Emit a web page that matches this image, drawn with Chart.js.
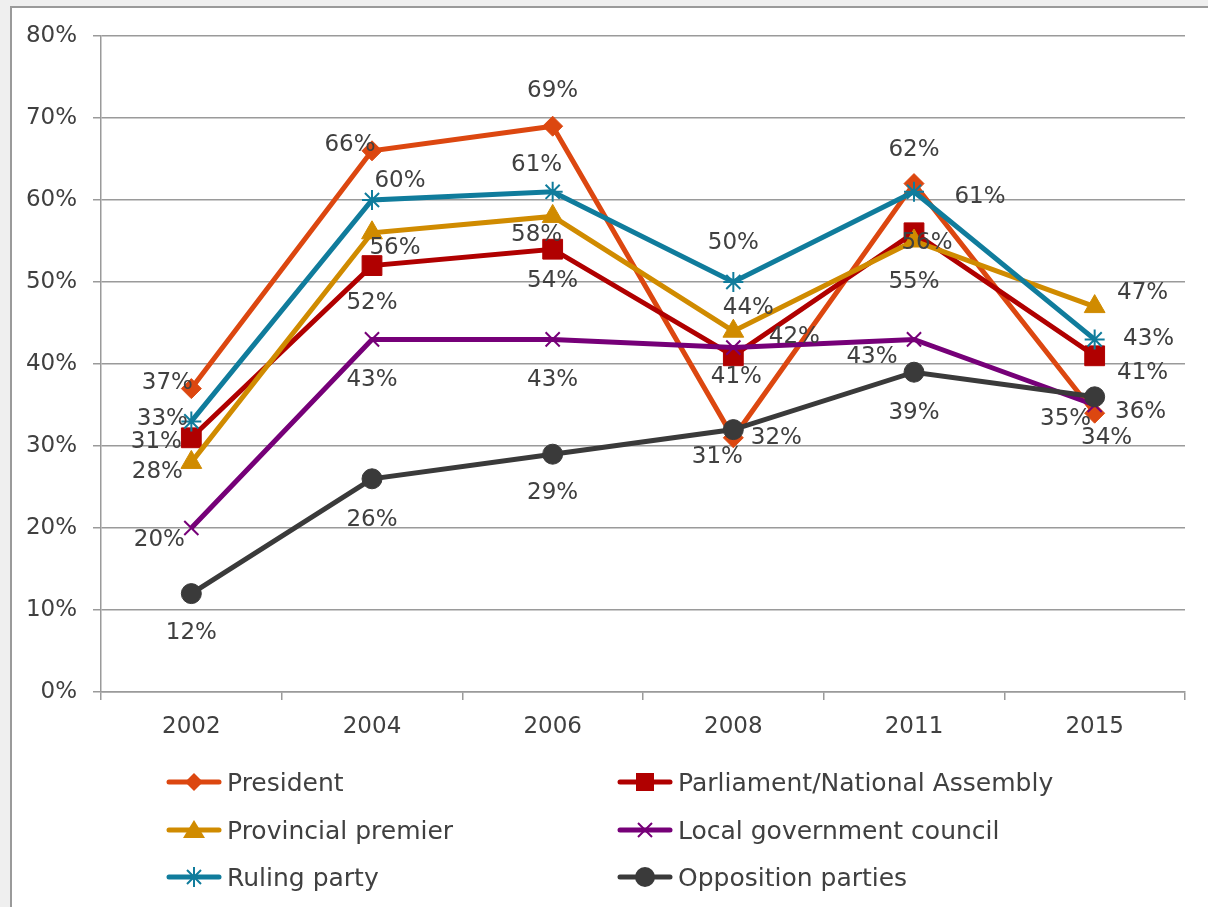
<!DOCTYPE html>
<html><head><meta charset="utf-8">
<script src="https://cdn.jsdelivr.net/npm/chart.js@4/dist/chart.umd.min.js"></script>
<style>
html,body{margin:0;padding:0;overflow:hidden;}
body{width:1208px;height:907px;background:#efefef;position:relative;font-family:"DejaVu Sans",sans-serif;}
#box{position:absolute;left:10px;top:6px;width:1198px;height:901px;background:#fff;border-left:2px solid #9a9a9a;border-top:2px solid #9a9a9a;box-sizing:border-box;}
#wrap{position:absolute;left:0;top:0;width:1208px;height:907px;}
.lg{position:absolute;display:flex;align-items:center;font-size:25px;color:#404040;height:32px;white-space:nowrap;}
.lg svg{margin-right:5px;}
</style></head>
<body>
<div id="box"></div>
<div id="wrap"><canvas id="c" width="1208" height="907"></canvas></div>
<div id="legend"></div>
<script>
const categories = ['2002','2004','2006','2008','2011','2015'];
const seriesNames = ['President','Parliament/National Assembly','Provincial premier','Local government council','Ruling party','Opposition parties'];
const president   = [37, 66, 69, 31, 62, 34];
const parliament  = [31, 52, 54, 41, 56, 41];
const provincial  = [28, 56, 58, 44, 55, 47];
const localGov    = [20, 43, 43, 42, 43, 35];
const rulingParty = [33, 60, 61, 50, 61, 43];
const opposition  = [12, 26, 29, 32, 39, 36];
const yTicks = [0,10,20,30,40,50,60,70,80];

const colors = ['#DC4710','#B00000','#D08B00','#760078','#107C9C','#3A3A3A'];
const styles = ['rectRot','rect','triangle','crossRot','star','circle'];
const radii  = [10, 14, 12, 10, 10, 10];
// label offsets (dx, dy) in px relative to each point
const labelOffsets = [
  [[-24,-6],[-22,-6],[0,-35],[-16,19],[0,-34],[12,25]],
  [[-35,4],[0,37],[0,32],[3,21],[13,10],[48,17]],
  [[-34,10],[23,15],[-16,19],[15,-23],[0,41],[48,-14]],
  [[-32,12],[0,41],[0,41],[61,-11],[-42,18],[-29,14]],
  [[-29,-2],[28,-19],[-16,-27],[0,-39],[66,5],[54,0]],
  [[0,39],[0,41],[0,39],[43,8],[0,41],[46,15]]
];
const allSeries = [president, parliament, provincial, localGov, rulingParty, opposition];

const datasets = allSeries.map((d,i)=>({
  label: seriesNames[i],
  data: d,
  borderColor: colors[i],
  backgroundColor: colors[i],
  borderWidth: 5,
  pointStyle: styles[i],
  pointRadius: radii[i],
  pointHoverRadius: radii[i],
  pointBorderWidth: (styles[i]==='crossRot'||styles[i]==='star') ? 2 : 1,
  pointBorderColor: colors[i],
  pointBackgroundColor: colors[i],
  tension: 0,
  order: 5 - i
}));

const labelPlugin = {
  id:'pctLabels',
  afterDatasetsDraw(chart){
    const ctx = chart.ctx;
    ctx.save();
    ctx.font = '23px "DejaVu Sans"';
    ctx.fillStyle = '#404040';
    ctx.textAlign = 'center';
    ctx.textBaseline = 'middle';
    chart.data.datasets.forEach((ds,i)=>{
      const meta = chart.getDatasetMeta(i);
      meta.data.forEach((pt,j)=>{
        const o = labelOffsets[i][j];
        ctx.fillText(ds.data[j]+'%', pt.x+o[0], pt.y+o[1]);
      });
    });
    ctx.restore();
  }
};

new Chart(document.getElementById('c'), {
  type:'line',
  data:{labels:categories, datasets},
  options:{
    responsive:false,
    animation:false,
    layout:{padding:{left:0,right:23,top:36,bottom:0}},
    plugins:{legend:{display:false},tooltip:{enabled:false}},
    scales:{
      x:{
        offset:true,
        grid:{display:true,drawOnChartArea:false,drawTicks:true,tickLength:8,color:'#9a9a9a',lineWidth:1.5,offset:true},
        border:{display:true,color:'#9a9a9a',width:1.5},
        ticks:{color:'#404040',font:{family:'DejaVu Sans',size:23},padding:13,maxRotation:0},
        afterFit(s){s.height=215;}
      },
      y:{
        min:0,max:80,
        afterBuildTicks(s){s.ticks = yTicks.map(v=>({value:v}));},
        grid:{color:'#9a9a9a',lineWidth:1.5,tickLength:8,drawTicks:true},
        border:{display:true,color:'#9a9a9a',width:1.5},
        ticks:{color:'#404040',font:{family:'DejaVu Sans',size:23},padding:16,callback:v=>v+'%'},
        afterFit(s){s.width=101;}
      }
    }
  },
  plugins:[labelPlugin]
});

// HTML legend
function markerSvg(i){
  const c = colors[i];
  let shape = '';
  const cx=28, cy=12;
  switch(styles[i]){
    case 'rectRot': shape=`<polygon points="${cx},${cy-9} ${cx+9},${cy} ${cx},${cy+9} ${cx-9},${cy}" fill="${c}"/>`; break;
    case 'rect': shape=`<rect x="${cx-9}" y="${cy-9}" width="18" height="18" fill="${c}"/>`; break;
    case 'triangle': shape=`<polygon points="${cx},${cy-10} ${cx+11},${cy+8} ${cx-11},${cy+8}" fill="${c}"/>`; break;
    case 'crossRot': shape=`<path d="M${cx-7},${cy-7}L${cx+7},${cy+7}M${cx+7},${cy-7}L${cx-7},${cy+7}" stroke="${c}" stroke-width="2"/>`; break;
    case 'star': shape=`<path d="M${cx-7},${cy-7}L${cx+7},${cy+7}M${cx+7},${cy-7}L${cx-7},${cy+7}M${cx},${cy-10}L${cx},${cy+10}M${cx-10},${cy}L${cx+10},${cy}" stroke="${c}" stroke-width="2"/>`; break;
    case 'circle': shape=`<circle cx="${cx}" cy="${cy}" r="10" fill="${c}"/>`; break;
  }
  return `<svg width="56" height="24" viewBox="0 0 56 24"><line x1="3" y1="12" x2="53" y2="12" stroke="${c}" stroke-width="5" stroke-linecap="round"/>${shape}</svg>`;
}
const legendPos = [[166,782],[617,782],[166,830],[617,830],[166,877],[617,877]];
const lg = document.getElementById('legend');
seriesNames.forEach((n,i)=>{
  const d = document.createElement('div');
  d.className='lg';
  d.style.left = legendPos[i][0]+'px';
  d.style.top = (legendPos[i][1]-16)+'px';
  d.innerHTML = markerSvg(i)+'<span>'+n+'</span>';
  lg.appendChild(d);
});
</script>
</body></html>
